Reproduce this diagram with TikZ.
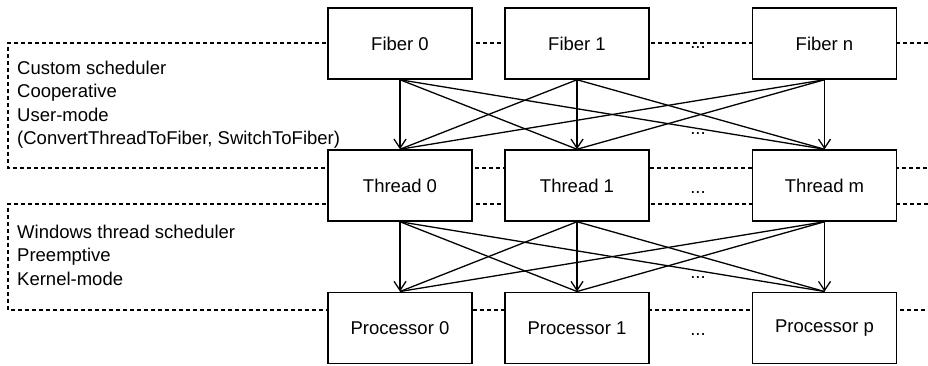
\documentclass[tikz,border=0pt]{standalone}
\usepackage{fontspec}
\setmainfont{Liberation Sans}
\usetikzlibrary{arrows.meta}
\newcommand\lblfont{\fontsize{18.5}{22}\selectfont}
\begin{document}
\begin{tikzpicture}[x=1pt,y=-1pt,
  box/.style={draw,line width=1.5pt,fill=white,minimum width=144pt,minimum height=71pt,inner sep=0pt,font=\lblfont},
  lbl/.style={anchor=base west,inner sep=0pt,font=\lblfont},
  dots/.style={anchor=base,inner sep=0pt,font=\lblfont},
  grp/.style={draw,line width=1.2pt,dash pattern=on 4pt off 3pt},
  conn/.style={draw,line width=1.3pt},
  vconn/.style={conn,-{Straight Barb[length=9pt,width=12pt,line width=1.3pt]}}]
\useasboundingbox (0,0) rectangle (928,366);
% dashed group frames
\coordinate (ua) at (928,43); \coordinate (ub) at (8,43);
\coordinate (uc) at (8,168); \coordinate (ud) at (928,168);
\coordinate (la) at (928,204); \coordinate (lb) at (8,204);
\coordinate (lc) at (8,310); \coordinate (ld) at (928,310);
\draw[grp] (ua) -- (ub) -- (uc) -- (ud);
\draw[grp] (la) -- (lb) -- (lc) -- (ld);
% labels
\node[lbl] (u1) at (17,74.5) {Custom scheduler};
\node[lbl] (u2) at (17,97.9) {Cooperative};
\node[lbl] (u3) at (17,121.3) {User-mode};
\node[lbl] (u4) at (17,144.7) {(ConvertThreadToFiber, SwitchToFiber)};
\node[lbl] (l1) at (17,238.5) {Windows thread scheduler};
\node[lbl] (l2) at (17,261.9) {Preemptive};
\node[lbl] (l3) at (17,285.3) {Kernel-mode};
% boxes
\node[box] (f0) at (400,43.5) {Fiber 0};
\node[box] (f1) at (577,43.5) {Fiber 1};
\node[box] (fn) at (824.5,43.5) {Fiber n};
\node[box] (t0) at (400,185.5) {Thread 0};
\node[box] (t1) at (577,185.5) {Thread 1};
\node[box] (tm) at (824.5,185.5) {Thread m};
\node[box] (p0) at (400,327.75) {Processor 0};
\node[box] (p1) at (577,327.75) {Processor 1};
\node[box] (pp) at (824.5,327.75) {Processor p};
% ellipses
\node[dots] (d1) at (698,48.5) {...};
\node[dots] (d2) at (698,134.5) {...};
\node[dots] (d3) at (698,193.5) {...};
\node[dots] (d4) at (698,278.5) {...};
\node[dots] (d5) at (698,335.5) {...};
% connectors
\foreach \s/\t in {f0/t1,f0/tm,f1/t0,f1/tm,fn/t0,fn/t1,t0/p1,t0/pp,t1/p0,t1/pp,tm/p0,tm/p1}
  \draw[conn] (\s.south) -- (\t.north);
\foreach \s/\t in {f0/t0,f1/t1,fn/tm,t0/p0,t1/p1,tm/pp}
  \draw[vconn] (\s.south) -- (\t.north);
\end{tikzpicture}
\end{document}
